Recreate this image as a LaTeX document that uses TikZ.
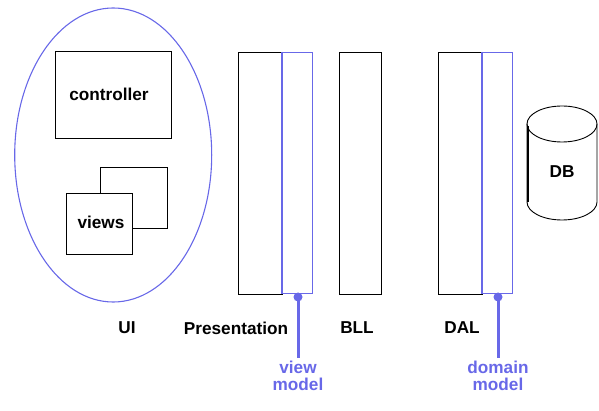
\documentclass[tikz,border=0pt]{standalone}
\usepackage{fontspec}
\usetikzlibrary{shapes.geometric}
\setmainfont{Liberation Sans}
\definecolor{vblue}{RGB}{104,104,232}
\begin{document}
\begin{tikzpicture}[x=1pt,y=-1pt,
  lbl/.style={font=\bfseries\fontsize{17.2}{18}\selectfont, inner sep=0pt},
  blbl/.style={font=\bfseries\fontsize{17.2}{17}\selectfont, inner sep=0pt, text=vblue, align=center},
  boxn/.style={draw=black, line width=0.9pt, inner sep=0pt, anchor=north west, fill=white},
  bbox/.style={draw=vblue, line width=0.9pt, inner sep=0pt, anchor=north west},
  stem/.style={draw=vblue, line width=3pt},
  dotn/.style={circle, fill=vblue, inner sep=0pt, minimum size=9pt}]
\useasboundingbox (0,0) rectangle (599,411);
% UI
\node[draw=vblue, line width=1.1pt, ellipse, inner sep=0pt, minimum width=197pt, minimum height=294pt] (ui) at (113.2,155) {};
\node[boxn, minimum width=116pt, minimum height=87pt] (ctrl) at (55,51) {};
\node[lbl] (ctrlt) at (109,94) {controller};
\node[boxn, minimum width=67pt, minimum height=61pt] (vback) at (100,167) {};
\node[boxn, minimum width=66pt, minimum height=61pt] (vfront) at (66,193) {};
\node[lbl] (viewst) at (101,222) {views};
% Presentation
\node[boxn, minimum width=44pt, minimum height=242pt] (pres) at (238,52) {};
\node[bbox, minimum width=30pt, minimum height=241pt] (vm) at (282,52) {};
\draw[vblue, line width=2pt] (vm.north west) -- (vm.south west);
% BLL
\node[boxn, minimum width=42pt, minimum height=242pt] (bll) at (339,52) {};
% DAL
\node[boxn, minimum width=44pt, minimum height=242pt] (dal) at (438,52) {};
\node[bbox, minimum width=30pt, minimum height=241pt] (dm) at (482,52) {};
\draw[vblue, line width=2pt] (dm.north west) -- (dm.south west);
% labels
\node[lbl] (uit) at (127,328) {UI};
\node[lbl] (prest) at (236,328) {Presentation};
\node[lbl] (bllt) at (357,328) {BLL};
\node[lbl] (dalt) at (462,328) {DAL};
% pins
\node[dotn] (vmdot) at (298,297) {};
\coordinate (vmend) at (298,358);
\draw[stem] (vmdot.center) -- (vmend);
\node[blbl] (vmt) at (298,375.5) {view\\model};
\node[dotn] (dmdot) at (498,297) {};
\coordinate (dmend) at (498,358);
\draw[stem] (dmdot.center) -- (dmend);
\node[blbl] (dmt) at (498,375.5) {domain\\model};
% DB
\draw[line width=0.9pt] (527,124) -- (527,202) arc[start angle=180, end angle=360, x radius=35pt, y radius=18pt] -- (597,124);
\draw[line width=2pt] (528,126) -- (528,202);
\draw[line width=0.9pt] (562,124) ellipse[x radius=35pt, y radius=18pt];
\node[lbl] (db) at (562,172) {DB};
\end{tikzpicture}
\end{document}
